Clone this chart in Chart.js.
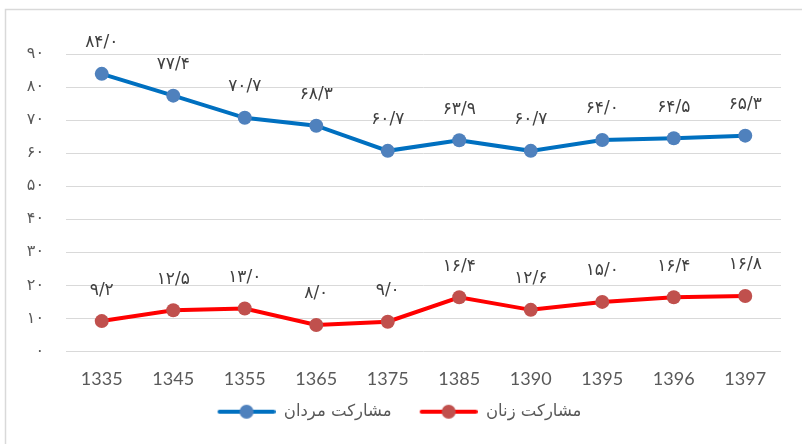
<!DOCTYPE html>
<html>
<head>
<meta charset="utf-8">
<script src="https://cdn.jsdelivr.net/npm/chart.js"></script>
<style>
  html, body { margin: 0; padding: 0; background: #fff; }
  #wrap { width: 802px; height: 444px; position: relative; }
</style>
</head>
<body>
<div id="wrap"><canvas id="chart" width="802" height="444"></canvas></div>
<script>
// chart data
const years = ['1335', '1345', '1355', '1365', '1375', '1385', '1390', '1395', '1396', '1397'];
const menRate = [84.0, 77.4, 70.7, 68.3, 60.7, 63.9, 60.7, 64.0, 64.5, 65.3];
const womenRate = [9.2, 12.5, 13.0, 8.0, 9.0, 16.4, 12.6, 15.0, 16.4, 16.8];
const seriesNames = ['مشارکت مردان', 'مشارکت زنان'];

const faDigits = '۰۱۲۳۴۵۶۷۸۹';
function toFa(str) {
    return String(str).replace(/[0-9]/g, d => faDigits[d]).replace('.', '/');
}

// small line + dot image used as legend marker (transparent gap on the left)
function legendMarker(lineColor, dotColor) {
    const c = document.createElement('canvas');
    c.width = 76;
    c.height = 16;
    const g = c.getContext('2d');
    g.strokeStyle = lineColor;
    g.lineWidth = 4;
    g.lineCap = 'round';
    g.beginPath();
    g.moveTo(20, 8);
    g.lineTo(74, 8);
    g.stroke();
    g.fillStyle = dotColor;
    g.beginPath();
    g.arc(47, 8, 7, 0, Math.PI * 2);
    g.fill();
    return c;
}
const markers = [legendMarker('#0070C0', '#4F81BD'), legendMarker('#FF0000', '#C0504D')];

// grey frame round the chart (top and left edges visible)
const framePlugin = {
    id: 'frame',
    beforeDraw(chart) {
        const ctx = chart.ctx;
        ctx.save();
        ctx.strokeStyle = '#d9d9d9';
        ctx.lineWidth = 1.5;
        ctx.beginPath();
        ctx.moveTo(5.5, 444);
        ctx.lineTo(5.5, 9.5);
        ctx.lineTo(802, 9.5);
        ctx.stroke();
        ctx.restore();
    }
};

// value labels above each point
const valueLabels = {
    id: 'valueLabels',
    afterDatasetsDraw(chart) {
        const ctx = chart.ctx;
        ctx.save();
        ctx.font = '17px "DejaVu Sans"';
        ctx.fillStyle = '#404040';
        ctx.textAlign = 'center';
        ctx.textBaseline = 'middle';
        chart.data.datasets.forEach((ds, i) => {
            chart.getDatasetMeta(i).data.forEach((pt, j) => {
                ctx.fillText(toFa(ds.data[j].toFixed(1)), pt.x, pt.y - 31);
            });
        });
        ctx.restore();
    }
};

const ctx = document.getElementById('chart').getContext('2d');
new Chart(ctx, {
    type: 'line',
    data: {
        labels: years,
        datasets: [{
            label: seriesNames[0],
            data: menRate,
            borderColor: '#0070C0',
            borderWidth: 4,
            pointBackgroundColor: '#4F81BD',
            pointBorderColor: '#4F81BD',
            pointRadius: 7,
            pointBorderWidth: 0,
            tension: 0
        }, {
            label: seriesNames[1],
            data: womenRate,
            borderColor: '#FF0000',
            borderWidth: 4,
            pointBackgroundColor: '#C0504D',
            pointBorderColor: '#C0504D',
            pointRadius: 7,
            pointBorderWidth: 0,
            tension: 0
        }]
    },
    options: {
        responsive: false,
        animation: false,
        layout: { padding: { top: 54, right: 21, left: 0, bottom: 14 } },
        scales: {
            x: {
                offset: true,
                grid: { display: false },
                border: { display: false },
                ticks: {
                    color: '#595959',
                    font: { family: 'Lato', size: 18 },
                    padding: 9
                },
                afterFit(scale) { scale.height = 42; }
            },
            y: {
                min: 0,
                max: 90,
                grid: { color: '#d9d9d9', lineWidth: 1, drawTicks: false },
                border: { display: false },
                ticks: {
                    stepSize: 10,
                    color: '#595959',
                    font: { family: 'DejaVu Sans', size: 16 },
                    padding: 22,
                    callback: v => toFa(v)
                },
                afterFit(scale) { scale.width = 66; }
            }
        },
        plugins: {
            tooltip: { enabled: false },
            legend: {
                position: 'bottom',
                labels: {
                    usePointStyle: true,
                    pointStyleWidth: 76,
                    padding: 10,
                    color: '#595959',
                    font: { family: 'DejaVu Sans', size: 16.5 },
                    generateLabels(chart) {
                        const items = Chart.defaults.plugins.legend.labels.generateLabels(chart);
                        items.forEach((it, i) => { it.pointStyle = markers[i]; });
                        return items;
                    }
                }
            }
        }
    },
    plugins: [framePlugin, valueLabels]
});
</script>
</body>
</html>
